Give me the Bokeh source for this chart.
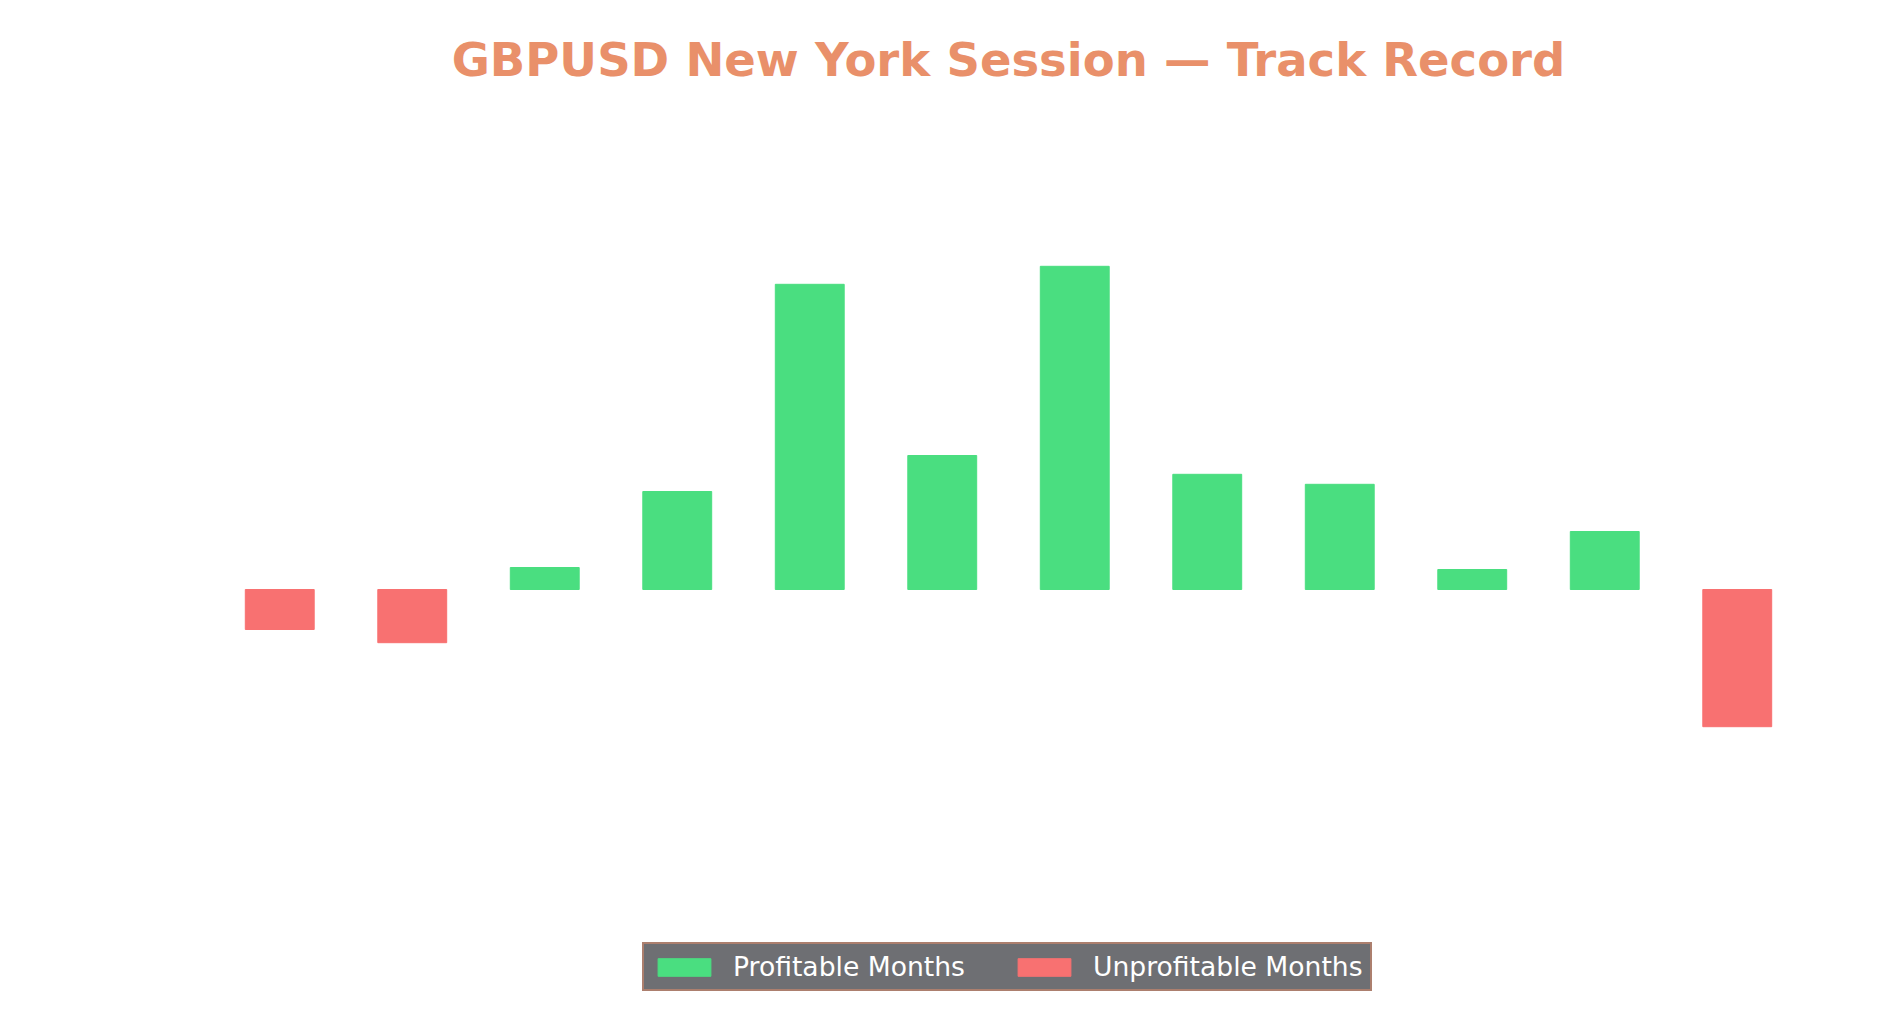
from bokeh.plotting import figure
from bokeh.models import ColumnDataSource, FactorRange, Range1d
from bokeh.embed import file_html
from bokeh.resources import INLINE


# monthly net result (%)
MONTHS = ["Jan", "Feb", "Mar", "Apr", "May", "Jun",
          "Jul", "Aug", "Sep", "Oct", "Nov", "Dec"]
RETURNS = [-1.00, -1.33, 0.55, 2.45, 7.63, 3.35,
           8.08, 2.88, 2.63, 0.50, 1.45, -3.43]

GREEN = "#4ADE80"
RED = "#F87171"
SALMON = "#E9906A"
LEGEND_BG = "#6E6F73"
FONT = "DejaVu Sans"

win_months = [m for m, r in zip(MONTHS, RETURNS) if r >= 0]
win_values = [r for r in RETURNS if r >= 0]
loss_months = [m for m, r in zip(MONTHS, RETURNS) if r < 0]
loss_values = [r for r in RETURNS if r < 0]

wins = ColumnDataSource(data=dict(month=win_months, ret=win_values))
losses = ColumnDataSource(data=dict(month=loss_months, ret=loss_values))

p = figure(width=1872, height=1014,
           x_range=FactorRange(factors=MONTHS, range_padding=0),
           y_range=Range1d(-10.225, 12.4),
           output_backend="svg", toolbar_location=None,
           min_border_left=213, min_border_right=69,
           min_border_top=93, min_border_bottom=16)

p.vbar(x="month", top="ret", bottom=0, width=0.52, source=wins,
       color=GREEN, legend_label="Profitable Months")
p.vbar(x="month", top="ret", bottom=0, width=0.52, source=losses,
       color=RED, legend_label="Unprofitable Months")

p.title.text = "GBPUSD New York Session \u2014 Track Record"
p.title.align = "center"
p.title.text_font = FONT
p.title.text_font_size = "46.5px"
p.title.text_font_style = "bold"
p.title.text_color = SALMON
p.title.standoff = 13

p.xaxis.visible = False
p.yaxis.visible = False
p.xgrid.visible = False
p.ygrid.visible = False
p.outline_line_color = None
p.background_fill_color = "white"
p.border_fill_color = "white"

# legend swatches are drawn inset by 10% of the glyph box
p.legend.orientation = "horizontal"
p.legend.location = (429, 7)
p.legend.background_fill_color = LEGEND_BG
p.legend.background_fill_alpha = 1.0
p.legend.border_line_color = SALMON
p.legend.border_line_width = 2
p.legend.label_text_color = "white"
p.legend.label_text_font = FONT
p.legend.label_text_font_size = "26.6px"
p.legend.glyph_width = 66
p.legend.glyph_height = 22
p.legend.label_standoff = 16
p.legend.spacing = 46
p.legend.padding = 7
p.legend.margin = 0

open("out.html", "w").write(file_html(p, INLINE))
